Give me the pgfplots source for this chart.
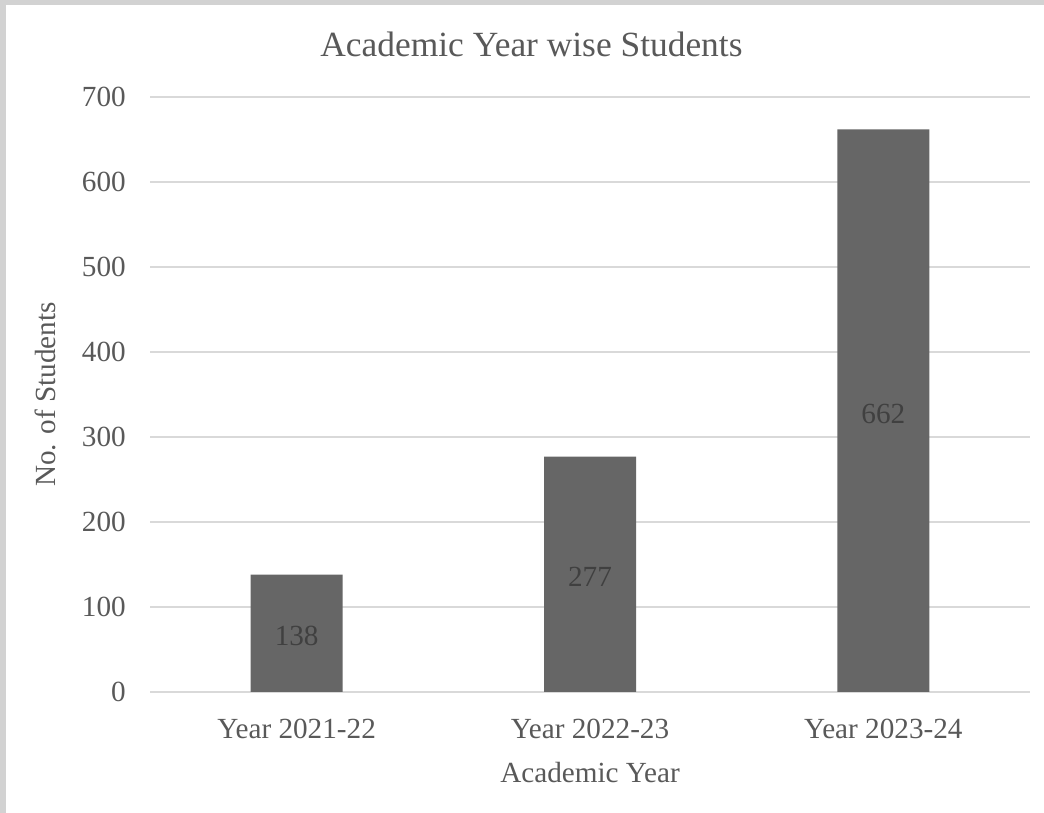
\documentclass[border=0pt]{standalone}
\usepackage{fontspec}
\setmainfont{Liberation Serif}
\usepackage{pgfplots}
\pgfplotsset{compat=1.18}

\definecolor{txtgray}{HTML}{595959}
\definecolor{lblgray}{HTML}{404040}
\definecolor{bargray}{HTML}{666666}
\definecolor{gridgray}{HTML}{D9D9D9}
\definecolor{framegray}{HTML}{D2D2D2}

\begin{document}
\begin{tikzpicture}[x=1pt,y=1pt]
	% screenshot frame
	\fill[framegray] (0,0) rectangle (522,406.5);
	\fill[white] (3,0) rectangle (522,404);

	\begin{axis}[
		at={(75pt,60.5pt)}, anchor=south west,
		scale only axis,
		width=440pt, height=297.5pt,
		ybar, bar width=46pt,
		xmin=-0.5, xmax=2.5,
		ymin=0, ymax=700,
		xtick=data,
		xticklabels={Year 2021-22, Year 2022-23, Year 2023-24},
		ytick={0,100,...,700},
		ymajorgrids,
		grid style={color=gridgray, line width=0.75pt},
		axis line style={draw=none},
		major tick length=0pt,
		tick style={draw=none},
		/pgf/number format/assume math mode=true,
		ticklabel style={font=\fontsize{14.6}{17}\selectfont, text=txtgray},
		yticklabel style={xshift=-8.6pt},
		xticklabel style={anchor=center, yshift=-18.5pt},
		title={Academic Year wise Students},
		title style={font=\fontsize{17.7}{21}\selectfont, text=txtgray,
			at={(axis description cs:0.4335,1.069)}, anchor=center},
		xlabel={Academic Year},
		xlabel style={font=\fontsize{14.6}{17}\selectfont, text=txtgray,
			at={(axis description cs:0.5,-0.136)}, anchor=center},
		ylabel={No. of Students},
		ylabel style={font=\fontsize{14.6}{17}\selectfont, text=txtgray,
			at={(axis description cs:-0.1193,0.5)}, anchor=center, rotate=0},
		visualization depends on=rawy \as \rawy,
		nodes near coords,
		nodes near coords style={font=\fontsize{14.6}{17}\selectfont, text=lblgray,
			anchor=center, shift={(axis direction cs:0,-\rawy/2)}, yshift=-1.5pt},
	]
	\addplot[fill=bargray, draw=none] coordinates {
		(0,138)
		(1,277)
		(2,662)
	};
	\end{axis}

	\pgfresetboundingbox
	\path (0,0) rectangle (522,406.5);
\end{tikzpicture}
\end{document}
